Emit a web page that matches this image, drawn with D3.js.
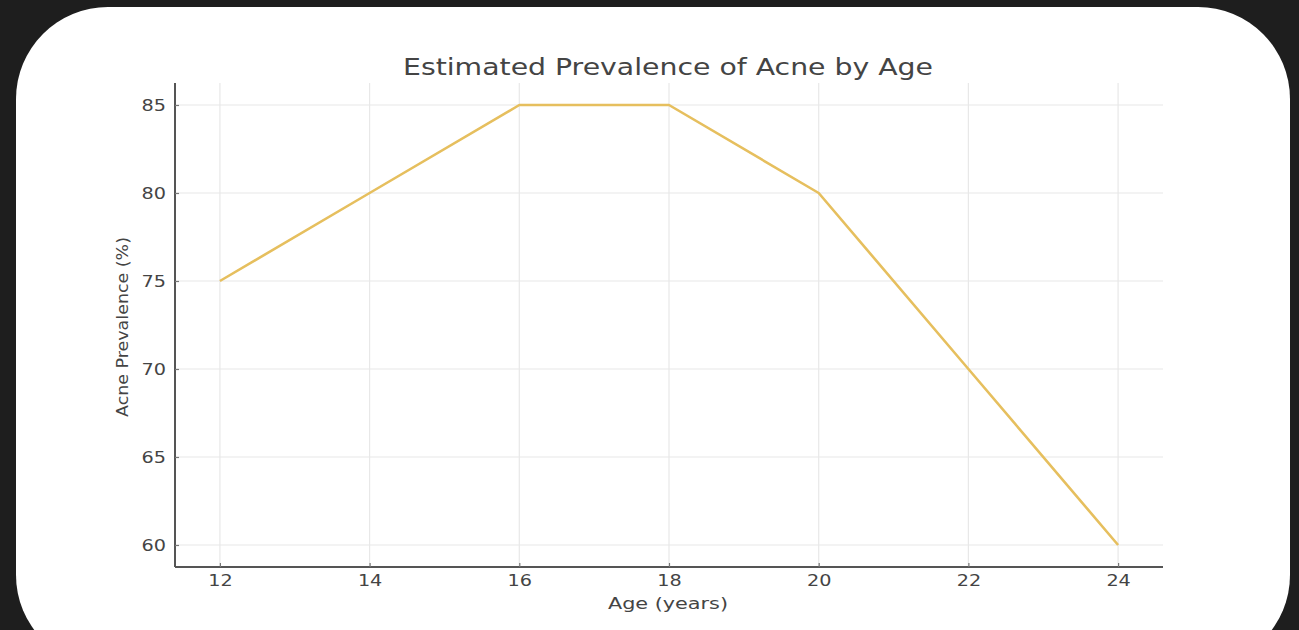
<!DOCTYPE html>
<html>
<head>
<meta charset="utf-8">
<script src="https://cdn.jsdelivr.net/npm/d3@7"></script>
<style>
html,body{margin:0;padding:0;background:#1e1e1e;}
svg{display:block;}
</style>
</head>
<body>
<svg id="chart" width="1299" height="630"></svg>
<script>
const ages = [12, 14, 16, 18, 20, 22, 24];
const prevalence = [75, 80, 85, 85, 80, 70, 60];
const xTicks = [12, 14, 16, 18, 20, 22, 24];
const yTicks = [60, 65, 70, 75, 80, 85];
const title = "Estimated Prevalence of Acne by Age";
const xLabel = "Age (years)";
const yLabel = "Acne Prevalence (%)";

(function(){
const svg = d3.select("#chart");
svg.append("rect").attr("x",0).attr("y",0).attr("width",1299).attr("height",630).attr("fill","#1e1e1e");
svg.append("rect").attr("x",16).attr("y",7).attr("width",1274).attr("height",660)
  .attr("rx",92).attr("ry",92).attr("fill","#ffffff");

const pLeft = 175, pRight = 1163, pTop = 83, pBottom = 567;
const x = d3.scaleLinear().domain([11.4, 24.6]).range([pLeft, pRight]);
const y = d3.scaleLinear().domain([58.75, 86.25]).range([pBottom, pTop]);

const fontFam = "'DejaVu Sans', sans-serif";
const textCol = "#444444";

function stretch(sel, factor){
  sel.each(function(){
    const w = this.getComputedTextLength();
    d3.select(this).attr("textLength", w*factor).attr("lengthAdjust","spacingAndGlyphs");
  });
}

// grid
const g = svg.append("g");
g.selectAll("line.vx").data(xTicks).enter().append("line")
  .attr("x1", d=>x(d)).attr("x2", d=>x(d)).attr("y1", pTop).attr("y2", pBottom)
  .attr("stroke","#e8e8e8").attr("stroke-width",1.2);
g.selectAll("line.hy").data(yTicks).enter().append("line")
  .attr("y1", d=>y(d)).attr("y2", d=>y(d)).attr("x1", pLeft).attr("x2", pRight)
  .attr("stroke","#e8e8e8").attr("stroke-width",1.2);

// line
const line = d3.line().x((d,i)=>x(ages[i])).y(d=>y(d));
svg.append("path").datum(prevalence).attr("d", line)
  .attr("fill","none").attr("stroke","#e6bf5e").attr("stroke-width",2.6)
  .attr("stroke-linejoin","round");

// axes
const xAxis = d3.axisBottom(x).tickValues(xTicks).tickSize(-4).tickPadding(8).tickSizeOuter(0);
const yAxis = d3.axisLeft(y).tickValues(yTicks).tickSize(-4).tickPadding(9).tickSizeOuter(0);
const gx = svg.append("g").attr("transform",`translate(0,${pBottom})`).call(xAxis);
const gy = svg.append("g").attr("transform",`translate(${pLeft},0)`).call(yAxis);
[gx, gy].forEach(a=>{
  a.select(".domain").attr("stroke","#555").attr("stroke-width",2);
  a.selectAll(".tick line").attr("stroke","#777").attr("stroke-width",1.2);
  a.selectAll(".tick text").attr("fill",textCol).attr("font-family",fontFam).attr("font-size",16);
  stretch(a.selectAll(".tick text"), 1.2);
});
gx.select(".domain").attr("d", `M${pLeft},0H${pRight}`);
gy.select(".domain").attr("d", `M0,${pTop}V${pBottom}`);

const t = svg.append("text").attr("x",668).attr("y",75).attr("text-anchor","middle")
  .attr("font-family",fontFam).attr("font-size",23).attr("fill",textCol).text(title);
t.attr("textLength",530).attr("lengthAdjust","spacingAndGlyphs");
const xl = svg.append("text").attr("x",668).attr("y",609).attr("text-anchor","middle")
  .attr("font-family",fontFam).attr("font-size",16).attr("fill",textCol).text(xLabel);
xl.attr("textLength",120).attr("lengthAdjust","spacingAndGlyphs");
const yl = svg.append("text").attr("transform","translate(128,327) rotate(-90)").attr("text-anchor","middle")
  .attr("font-family",fontFam).attr("font-size",15.5).attr("fill",textCol).text(yLabel);
yl.attr("textLength",180).attr("lengthAdjust","spacingAndGlyphs");
})();
</script>
</body>
</html>
